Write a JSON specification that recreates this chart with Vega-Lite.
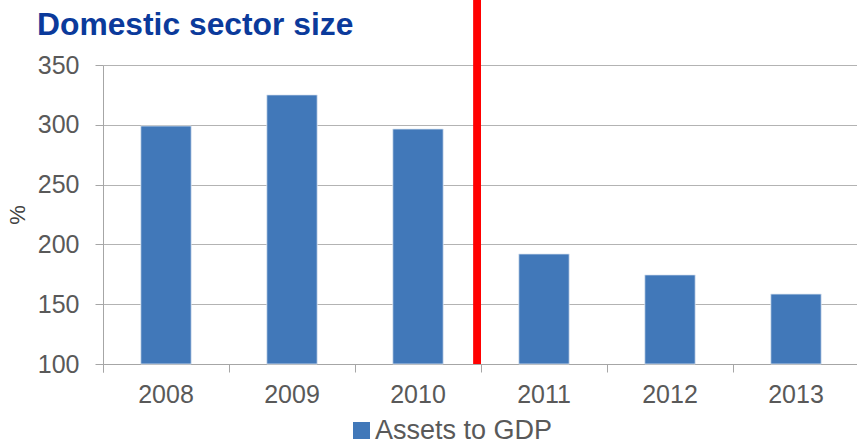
{
  "$schema": "https://vega.github.io/schema/vega-lite/v6.json",
  "autosize": "none",
  "width": 756,
  "height": 299,
  "padding": {"left": 103, "top": 65, "right": 0, "bottom": 80},
  "background": "white",
  "config": {"view": {"stroke": null}, "font": "Liberation Sans"},
  "title": {
    "text": "Domestic sector size",
    "anchor": "start",
    "frame": "group",
    "font": "Liberation Sans",
    "fontSize": 31.8,
    "fontWeight": "bold",
    "color": "#0b3a9b",
    "baseline": "alphabetic",
    "dx": -66,
    "dy": 71,
    "offset": 0
  },
  "data": {
    "values": [
      {"year": "2008", "value": 299, "series": "Assets to GDP"},
      {"year": "2009", "value": 325, "series": "Assets to GDP"},
      {"year": "2010", "value": 296.5, "series": "Assets to GDP"},
      {"year": "2011", "value": 192, "series": "Assets to GDP"},
      {"year": "2012", "value": 174.5, "series": "Assets to GDP"},
      {"year": "2013", "value": 158.5, "series": "Assets to GDP"}
    ]
  },
  "layer": [
    {
      "mark": {"type": "bar", "stroke": "#dfe8f3", "strokeWidth": 0.8, "width": {"band": 0.4}},
      "encoding": {
        "x": {
          "field": "year",
          "type": "ordinal",
          "scale": {"paddingInner": 0, "paddingOuter": 0},
          "axis": {
            "title": null,
            "labelAngle": 0,
            "labelFontSize": 25,
            "labelColor": "#595959",
            "labelPadding": 10,
            "domainColor": "#a6a6a6",
            "tickColor": "#a6a6a6",
            "tickSize": 8,
            "bandPosition": 0,
            "tickExtra": true,
            "grid": false
          }
        },
        "y": {
          "field": "value",
          "type": "quantitative",
          "scale": {"domain": [100, 350], "nice": false, "zero": false},
          "axis": {
            "title": "%",
            "titleFontSize": 22,
            "titleFontWeight": "normal",
            "titleColor": "#404040",
            "titlePadding": 8,
            "values": [100, 150, 200, 250, 300, 350],
            "labelFontSize": 25,
            "labelColor": "#595959",
            "labelPadding": 16,
            "domainColor": "#a6a6a6",
            "tickColor": "#a6a6a6",
            "tickSize": 8,
            "gridColor": "#b3b3b3",
            "gridWidth": 1.2
          }
        },
        "y2": {"datum": 100},
        "color": {
          "field": "series",
          "type": "nominal",
          "scale": {"range": ["#4178b9"]},
          "legend": {
            "title": null,
            "orient": "none",
            "legendX": 245,
            "legendY": 352,
            "symbolType": "square",
            "symbolSize": 289,
            "symbolStrokeWidth": 0,
            "labelFontSize": 27,
            "labelLimit": 400,
            "labelColor": "#595959",
            "labelOffset": 0
          }
        }
      }
    },
    {
      "mark": {"type": "rule", "color": "#ff0000", "strokeWidth": 7},
      "encoding": {
        "x": {"datum": "2010", "type": "ordinal", "bandPosition": 0.97},
        "y": {"datum": 405, "type": "quantitative"},
        "y2": {"datum": 100}
      }
    }
  ]
}
